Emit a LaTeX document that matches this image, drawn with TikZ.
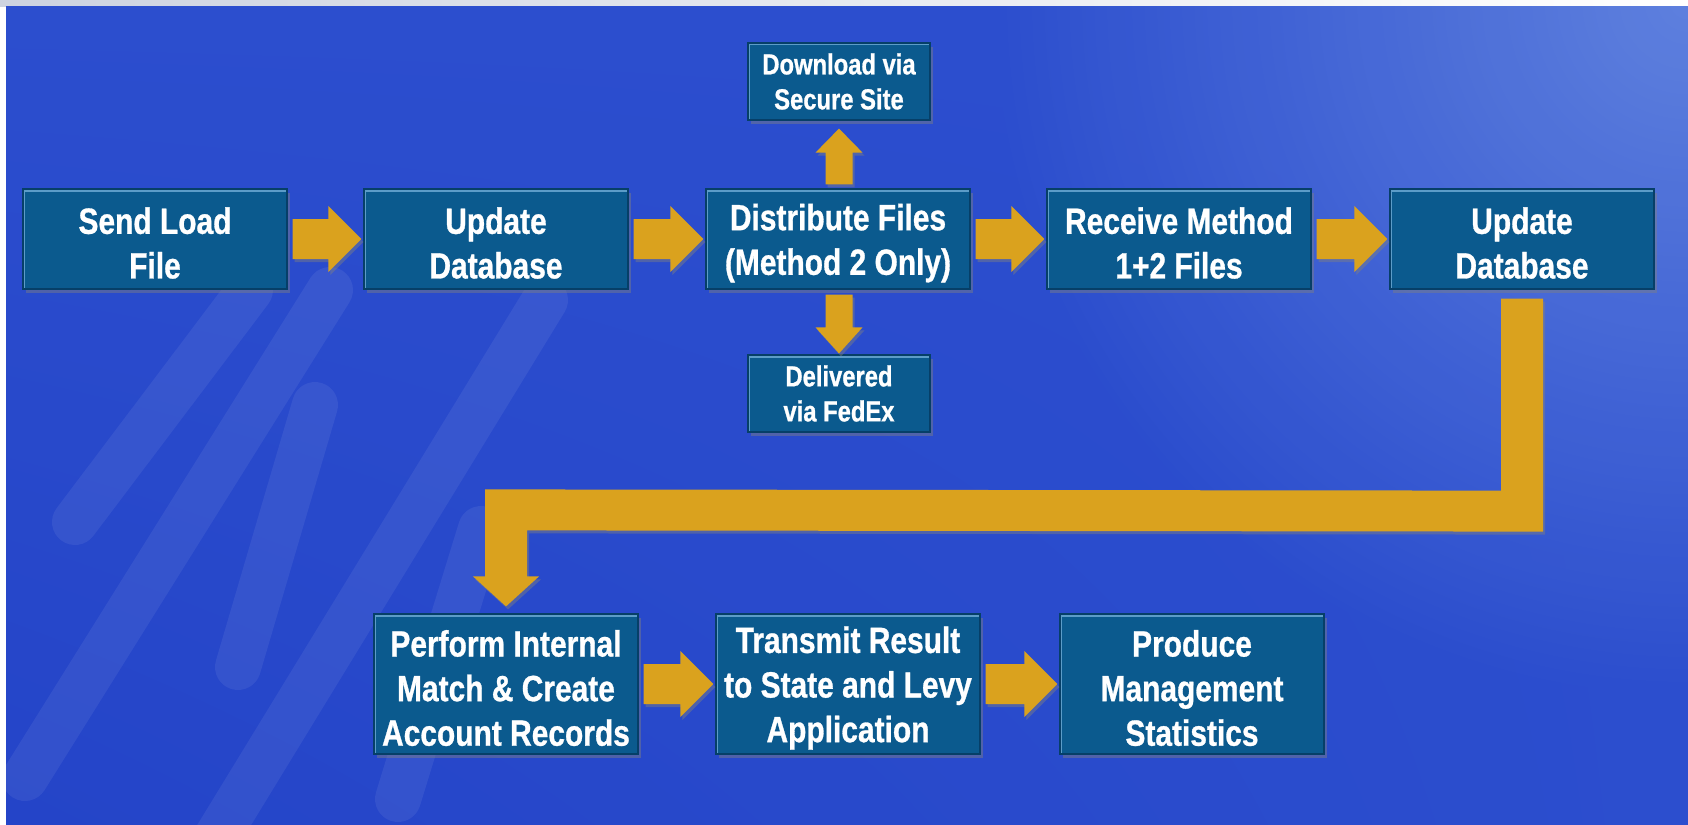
\documentclass[tikz,border=0pt]{standalone}
\usepackage{fontspec}
\newfontfamily\cf{Liberation Sans}[FakeStretch=0.82, FakeBold=0.8]
\usetikzlibrary{calc,shadows,shadings}
\definecolor{boxblue}{HTML}{0B5A8E}
\definecolor{boxedge}{HTML}{063F68}
\definecolor{boxhi}{HTML}{5C9CC8}
\definecolor{gold}{HTML}{DAA21E}
\definecolor{bgbase}{HTML}{2C4ECE}
\definecolor{bgglow}{HTML}{6486E0}
\definecolor{bgdark}{HTML}{2444C8}
\definecolor{topstrip}{HTML}{CDD3E0}
\newcommand\dn{\rule{0pt}{34.6pt}}
\tikzset{
  boxbase/.style={rectangle, fill=boxblue, draw=boxedge, line width=1.2pt, text=white, align=center, inner sep=0pt,
    drop shadow={shadow xshift=3pt, shadow yshift=-4pt, opacity=0.45},
    path picture={\draw[boxhi, line width=5pt] (path picture bounding box.north west) -- (path picture bounding box.north east);
                  \draw[boxhi, line width=3pt] (path picture bounding box.north west) -- (path picture bounding box.south west);}},
  mainbox/.style={boxbase, minimum width=264pt, minimum height=100pt, font=\cf\bfseries\fontsize{36.5}{44.6}\selectfont},
  tallbox/.style={boxbase, minimum width=264pt, minimum height=140pt, font=\cf\bfseries\fontsize{36.5}{44.6}\selectfont},
  smallbox/.style={boxbase, minimum width=182pt, minimum height=77pt, font=\cf\bfseries\fontsize{29}{35}\selectfont},
  goldarrow/.style={fill=gold, drop shadow={shadow xshift=2pt, shadow yshift=-3pt, opacity=0.45}},
  stripe/.style={white, opacity=0.065, line width=46pt, line cap=round}
}
\newcommand\harr[2]{%
  \fill[goldarrow] ($(#1.east)+(5,-20)$) -- ($(#2.west)+(-35,-20)$) -- ($(#2.west)+(-35,-33)$) -- ($(#2.west)+(-2,0)$)
    -- ($(#2.west)+(-35,33)$) -- ($(#2.west)+(-35,20)$) -- ($(#1.east)+(5,20)$) -- cycle;}
\begin{document}
\begin{tikzpicture}[x=1pt,y=-1pt]
\useasboundingbox (0,0) rectangle (1688,824);
\fill[white] (0,0) rectangle (1688,824);
\shade[left color=topstrip, right color=white] (0,0) rectangle (1688,7);
\begin{scope}
  \clip (6,7) rectangle (1688,824);
  \shade[upper left=bgbase, upper right=bgbase, lower left=bgdark, lower right=bgbase] (6,7) rectangle (1688,824);
  \shade[inner color=bgglow, outer color=bgbase, opacity=0.9] (1688,0) circle (700);
  \draw[stripe] (75,522) -- (250,290);
  \draw[stripe] (25,778) -- (330,290);
  \draw[stripe] (238,667) -- (315,405);
  \draw[stripe] (215,840) -- (545,300);
  \draw[stripe] (398,799) -- (481,529);
\end{scope}

\node[mainbox] (n1) at (155,239) {\dn Send Load\\File};
\node[mainbox] (n2) at (496,239) {\dn Update\\Database};
\node[mainbox] (n3) at (838,239) {\dn Distribute Files\\(Method 2 Only)};
\node[mainbox] (n4) at (1179,239) {\dn Receive Method\\1+2 Files};
\node[mainbox] (n5) at (1522,239) {\dn Update\\Database};
\node[smallbox] (dl) at (839,81.5) {Download via\\Secure Site};
\node[smallbox] (fx) at (839,393.5) {Delivered\\via FedEx};
\node[tallbox] (p1) at (506,684) {\dn Perform Internal\\Match \& Create\\Account Records};
\node[tallbox] (p2) at (848,684) {\dn Transmit Result\\to State and Levy\\Application};
\node[tallbox] (p3) at (1192,684) {\dn Produce\\Management\\Statistics};

\harr{n1}{n2}
\harr{n2}{n3}
\harr{n3}{n4}
\harr{n4}{n5}
\harr{p1}{p2}
\harr{p2}{p3}

% up arrow to secure site
\fill[goldarrow] ($(dl.south |- n3.north)+(-13.5,-4)$) -- ($(dl.south)+(-13.5,32)$) -- ($(dl.south)+(-23.5,32)$)
  -- ($(dl.south)+(0,8)$) -- ($(dl.south)+(23.5,32)$) -- ($(dl.south)+(13.5,32)$) -- ($(dl.south |- n3.north)+(13.5,-4)$) -- cycle;
% down arrow to FedEx
\fill[goldarrow] ($(fx.north |- n3.south)+(-13.5,5)$) -- ($(fx.north)+(-13.5,-27)$) -- ($(fx.north)+(-23.5,-27)$)
  -- ($(fx.north)+(0,-1)$) -- ($(fx.north)+(23.5,-27)$) -- ($(fx.north)+(13.5,-27)$) -- ($(fx.north |- n3.south)+(13.5,5)$) -- cycle;
% big return connector
\fill[goldarrow] ($(n5.south)+(-21,9)$) -- ($(n5.south)+(21,9)$) -- ($(n5.south)+(21,242)$) -- ($(p1.north)+(21,-83)$)
  -- ($(p1.north)+(21,-37)$) -- ($(p1.north)+(33,-37)$) -- ($(p1.north)+(0,-7)$) -- ($(p1.north)+(-33,-37)$)
  -- ($(p1.north)+(-21,-37)$) -- ($(p1.north)+(-21,-124)$) -- ($(n5.south)+(-21,201)$) -- cycle;
\end{tikzpicture}
\end{document}
